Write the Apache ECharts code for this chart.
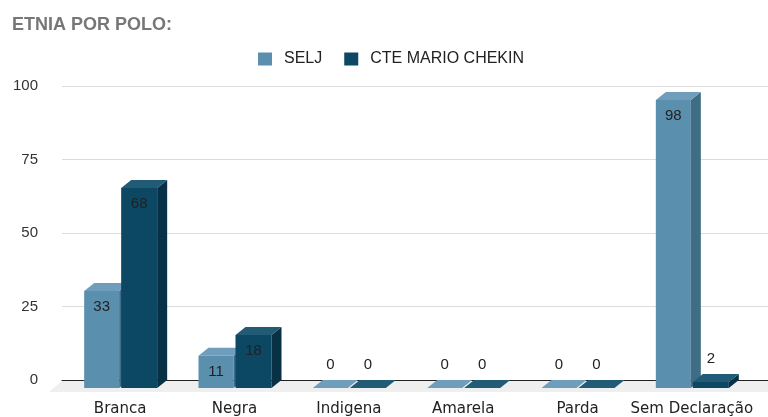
<!DOCTYPE html>
<html>
<head>
<meta charset="utf-8">
<script src="https://cdn.jsdelivr.net/npm/echarts@6/dist/echarts.min.js"></script>
<style>
  html, body { margin: 0; padding: 0; background: #fff; }
  #chart { width: 768px; height: 417px; }
</style>
</head>
<body>
<div id="chart"></div>
<script>
const categories = ['Branca', 'Negra', 'Indigena', 'Amarela', 'Parda', 'Sem Declaração']
const seljValues = [33, 11, 0, 0, 0, 98]
const cteValues = [68, 18, 0, 0, 0, 2]
const yTicks = [0, 25, 50, 75, 100]

// 3d look: front face sits lower-left of the value plane
const DX = 10
const DY = 8

const faces = {
  SELJ: { front: '#5b8fae', top: '#6e9ebb', side: '#3f6d86', left: -36, right: -1 },
  CTE: { front: '#0c4764', top: '#215b76', side: '#083146', left: 1, right: 37 }
}

function bar3d(key) {
  const f = faces[key]
  return function(params, api) {
    const c = api.coord([api.value(0), api.value(1)])
    const base = api.coord([api.value(0), 0])
    const L = c[0] + f.left
    const R = c[0] + f.right
    const ft = c[1] + DY
    const fb = base[1] + DY
    const children = []
    if (fb - ft > 0.5) {
      children.push({ type: 'rect', shape: { x: L, y: ft, width: R - L, height: fb - ft }, style: { fill: f.front } })
      children.push({ type: 'polygon', shape: { points: [[R, ft], [R + DX, ft - DY], [R + DX, fb - DY], [R, fb]] }, style: { fill: f.side } })
    }
    children.push({ type: 'polygon', shape: { points: [[L, ft], [R, ft], [R + DX, ft - DY], [L + DX, ft - DY]] }, style: { fill: f.top } })
    const inside = fb - ft > 24
    children.push({
      type: 'text',
      style: {
        text: String(api.value(1)),
        x: (L + R) / 2,
        y: inside ? ft + 16 : c[1] - 15,
        align: 'center',
        verticalAlign: 'middle',
        fill: '#222',
        font: '15px "Liberation Sans", Arial, sans-serif'
      }
    })
    return { type: 'group', children: children }
  }
}

const chart = echarts.init(document.getElementById('chart'))
const option = {
  animation: false,
  title: {
    text: 'ETNIA POR POLO:',
    left: 7,
    top: 11,
    textStyle: { color: '#777', fontSize: 18, fontWeight: 'bold', fontFamily: '"Liberation Sans", Arial, sans-serif' }
  },
  legend: {
    left: 253,
    top: 46,
    icon: 'rect',
    itemWidth: 14,
    itemHeight: 13,
    itemGap: 22,
    textStyle: { color: '#222', fontSize: 16, fontFamily: '"Liberation Sans", Arial, sans-serif', padding: [0, 0, 0, 7] },
    data: ['SELJ', 'CTE MARIO CHEKIN']
  },
  grid: [
    { left: 62, right: 0, top: 86, bottom: 37 },
    { left: 63, right: 19, top: 86, bottom: 37 }
  ],
  xAxis: [
    {
      gridIndex: 0, type: 'value', min: 0, max: 1,
      axisLabel: { show: false }, axisTick: { show: false }, splitLine: { show: false },
      axisLine: { show: true, lineStyle: { color: '#222', width: 1 } }
    },
    {
      gridIndex: 1, type: 'category', data: categories,
      axisLine: { show: false }, axisTick: { show: false },
      axisLabel: { interval: 0, margin: 22, color: '#222', fontSize: 15, fontFamily: '"DejaVu Sans", sans-serif' }
    }
  ],
  yAxis: [
    {
      gridIndex: 0, type: 'value', min: 0, max: 100, interval: 25,
      axisLine: { show: false }, axisTick: { show: false },
      axisLabel: {
        margin: 24, color: '#333', fontSize: 15, fontFamily: '"Liberation Sans", Arial, sans-serif',
        formatter: v => (yTicks.indexOf(v) >= 0 ? String(v) : '')
      },
      splitLine: { lineStyle: { color: '#dcdcdc' } }
    },
    { gridIndex: 1, type: 'value', min: 0, max: 100, show: false }
  ],
  series: [
    {
      name: 'floor',
      type: 'custom',
      xAxisIndex: 0,
      yAxisIndex: 0,
      silent: true,
      z: 0,
      data: [[0, 0]],
      renderItem: function(params, api) {
        const a = api.coord([0, 0])
        const b = api.coord([1, 0])
        return {
          type: 'polygon',
          shape: { points: [[a[0], a[1] + 1], [b[0], b[1] + 1], [b[0], b[1] + 12], [a[0] - 13, a[1] + 12]] },
          style: { fill: '#efefef' }
        }
      }
    },
    {
      name: 'SELJ',
      type: 'custom',
      xAxisIndex: 1,
      yAxisIndex: 1,
      z: 3,
      itemStyle: { color: faces.SELJ.front },
      encode: { x: 0, y: 1 },
      data: seljValues.map((v, i) => [i, v]),
      renderItem: bar3d('SELJ')
    },
    {
      name: 'CTE MARIO CHEKIN',
      type: 'custom',
      xAxisIndex: 1,
      yAxisIndex: 1,
      z: 3,
      itemStyle: { color: faces.CTE.front },
      encode: { x: 0, y: 1 },
      data: cteValues.map((v, i) => [i, v]),
      renderItem: bar3d('CTE')
    }
  ]
}
chart.setOption(option)
</script>
</body>
</html>
